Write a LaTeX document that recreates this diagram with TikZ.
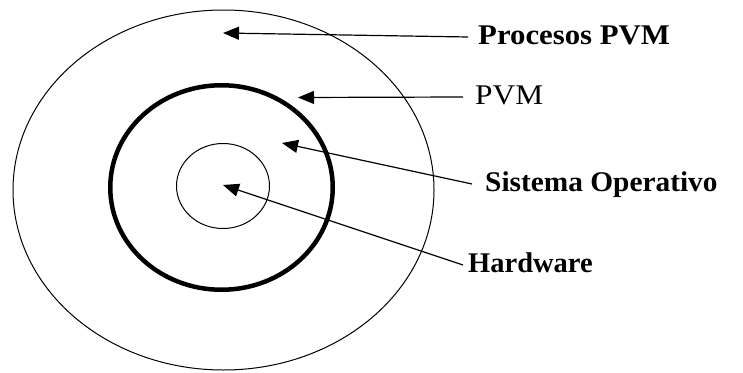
\documentclass[tikz,border=0pt]{standalone}
\usepackage{fontspec}
\setmainfont{Liberation Serif}
\usetikzlibrary{arrows.meta}
\begin{document}
\begin{tikzpicture}[x=1pt,y=-1pt,
  ring/.style={draw=black,line width=1pt},
  thickring/.style={draw=black,line width=4.5pt},
  arr/.style={draw=black,line width=1.2pt,-{Triangle[length=16pt,width=13pt]}},
  lbl/.style={anchor=west,inner ysep=0pt,text height=20pt,text depth=6pt,
    font=\fontsize{28.5}{30}\selectfont}]
\useasboundingbox (0,0) rectangle (743,372);
% rings
\draw[ring] (223.5,190) ellipse [x radius=210.5, y radius=180];
\draw[thickring] (221.5,187.5) ellipse [x radius=111.25, y radius=102.25];
\draw[ring] (223,186) ellipse [x radius=46.5, y radius=42.5];
% arrow tips
\coordinate (tip1) at (223,33);
\coordinate (tip2) at (298,97.5);
\coordinate (tip3) at (282,143);
\coordinate (tip4) at (223,185);
% labels
\node[lbl,inner xsep=10pt] (l1) at (468,37) {\scalebox{1.08}[1]{\bfseries Procesos PVM}};
\node[lbl,inner xsep=12pt] (l2) at (463,97) {\scalebox{1.1}[1]{PVM}};
\node[lbl,inner xsep=13pt] (l3) at (472,184) {\scalebox{1.03}[1]{\bfseries Sistema Operativo}};
\node[lbl,inner xsep=5pt] (l4) at (463,265) {\bfseries Hardware};
% connectors
\draw[arr] (l1.west) -- (tip1);
\draw[arr] (l2.west) -- (tip2);
\draw[arr] (l3.west) -- (tip3);
\draw[arr] (l4.west) -- (tip4);
\end{tikzpicture}
\end{document}
